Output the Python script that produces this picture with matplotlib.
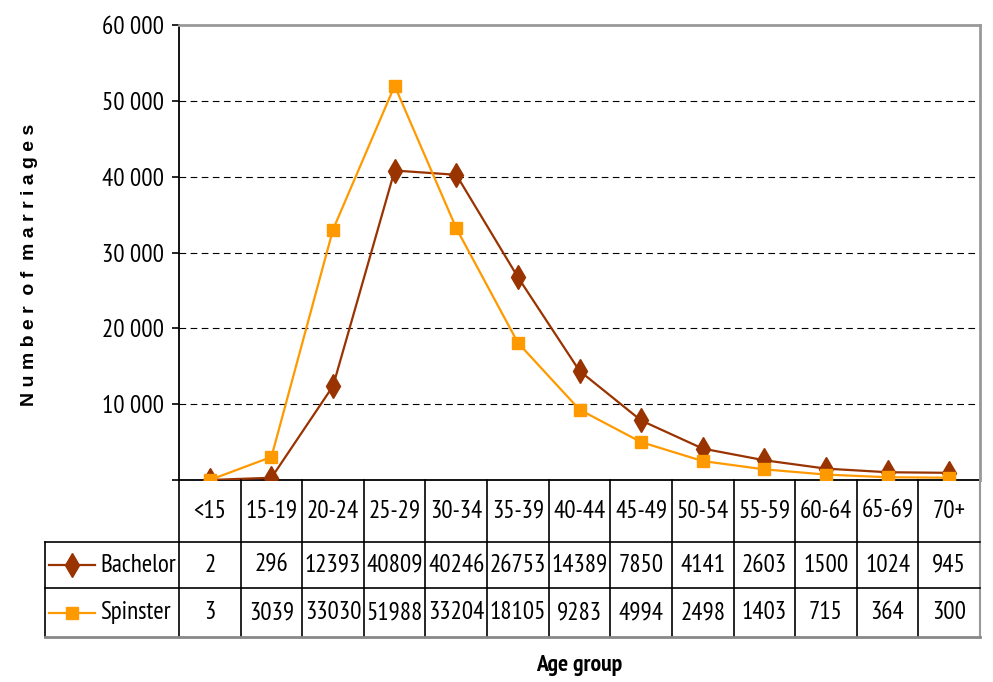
import matplotlib
matplotlib.use("Agg")
import matplotlib.pyplot as plt
from matplotlib import font_manager
from matplotlib.lines import Line2D

# data
age_groups = ["<15", "15-19", "20-24", "25-29", "30-34", "35-39", "40-44",
              "45-49", "50-54", "55-59", "60-64", "65-69", "70+"]
bachelor = [2, 296, 12393, 40809, 40246, 26753, 14389, 7850, 4141, 2603, 1500, 1024, 945]
spinster = [3, 3039, 33030, 51988, 33204, 18105, 9283, 4994, 2498, 1403, 715, 364, 300]
y_ticks = [0, 10000, 20000, 30000, 40000, 50000, 60000]

names = {f.name for f in font_manager.fontManager.ttflist}
fams = [f for f in ["PT Sans Narrow", "Archivo Narrow", "Roboto Condensed"] if f in names]
plt.rcParams["font.family"] = fams + ["Liberation Sans", "DejaVu Sans"]

c_bach = "#993300"
c_spin = "#FF9900"

W, H = 993, 682
fig = plt.figure(figsize=(W / 100, H / 100), dpi=100)

def fx(px):
    return px / W

def fy(py):
    return 1 - py / H

left, right, top, bottom = 179, 980, 25, 480
ax = fig.add_axes([fx(left), fy(bottom), fx(right - left), (bottom - top) / H])

x = list(range(len(age_groups)))
ax.plot(x, bachelor, color=c_bach, lw=1.6, marker="d", ms=12, mec=c_bach, mfc=c_bach, zorder=3)
ax.plot(x, spinster, color=c_spin, lw=1.6, marker="s", ms=8, mec=c_spin, mfc=c_spin, zorder=3)

ax.set_xlim(-0.5, len(age_groups) - 0.5)
ax.set_ylim(0, 60000)
ax.set_yticks(y_ticks)
ax.set_yticklabels([("{:,}".format(v).replace(",", " ") if v else "") for v in y_ticks])
ax.set_xticks([])
for v in y_ticks[1:-1]:
    ax.axhline(v, color="black", lw=0.8, ls=(0, (6, 4)), zorder=1)
ax.tick_params(axis="y", labelsize=18, length=5, width=1.2, direction="out", pad=6)
ax.spines["left"].set_linewidth(1.3)
ax.spines["bottom"].set_linewidth(1.3)
ax.spines["top"].set_color("#999999")
ax.spines["top"].set_linewidth(2)
ax.spines["right"].set_color("#999999")
ax.spines["right"].set_linewidth(2)

# data table below
tb_top, tb_bot = 480, 637
tax = fig.add_axes([fx(left), fy(tb_bot), fx(right - left), (tb_bot - tb_top) / H])
tax.set_xlim(-0.5, len(age_groups) - 0.5)
tax.set_ylim(tb_bot - tb_top, 0)
tax.axis("off")
unit = (right - left) / len(age_groups)
lab_left = -0.5 - (left - 45) / unit
rows = [0, 62, 108, 157]

kw = dict(color="black", lw=1.2, clip_on=False)
# vertical lines
for i in range(len(age_groups) + 1):
    col = "#999999" if i == len(age_groups) else "black"
    tax.plot([i - 0.5, i - 0.5], [rows[0], rows[3]], color=col, lw=1.5 if col != "black" else 1.2, clip_on=False)
tax.plot([lab_left, lab_left], [rows[1], rows[3]], **kw)
# horizontal lines
tax.plot([lab_left, len(age_groups) - 0.5], [rows[1], rows[1]], **kw)
tax.plot([lab_left, len(age_groups) - 0.5], [rows[2], rows[2]], **kw)
tax.plot([lab_left, len(age_groups) - 0.5], [rows[3], rows[3]], color="#888888", lw=2, clip_on=False)

fs = 18
for i, g in enumerate(age_groups):
    tax.text(i, (rows[0] + rows[1]) / 2, g, ha="center", va="center", fontsize=fs)
    tax.text(i, (rows[1] + rows[2]) / 2, str(bachelor[i]), ha="center", va="center", fontsize=fs)
    tax.text(i, (rows[2] + rows[3]) / 2, str(spinster[i]), ha="center", va="center", fontsize=fs)

# legend keys in table
key_x0 = lab_left + 4 / unit
key_x1 = lab_left + 50 / unit
for r, col, mk, ms, name in [(1, c_bach, "d", 12, "Bachelor"), (2, c_spin, "s", 8, "Spinster")]:
    yc = (rows[r] + rows[r + 1]) / 2
    tax.add_line(Line2D([key_x0, key_x1], [yc, yc], color=col, lw=1.6, clip_on=False))
    tax.plot([(key_x0 + key_x1) / 2], [yc], marker=mk, ms=ms, color=col, clip_on=False)
    tax.text(lab_left + 55 / unit, yc, name, ha="left", va="center", fontsize=fs)

fig.text(fx((left + right) / 2), fy(665), "Age group", ha="center", va="center",
         fontsize=17, fontweight="bold")
ylab = "  ".join(" ".join(w) for w in "Number of marriages".split())
fig.text(fx(30), fy(265), ylab, rotation=90, ha="center", va="center",
         fontsize=14, fontweight="bold", family=["Liberation Sans", "DejaVu Sans"])

fig.savefig("out.png", dpi=100)
